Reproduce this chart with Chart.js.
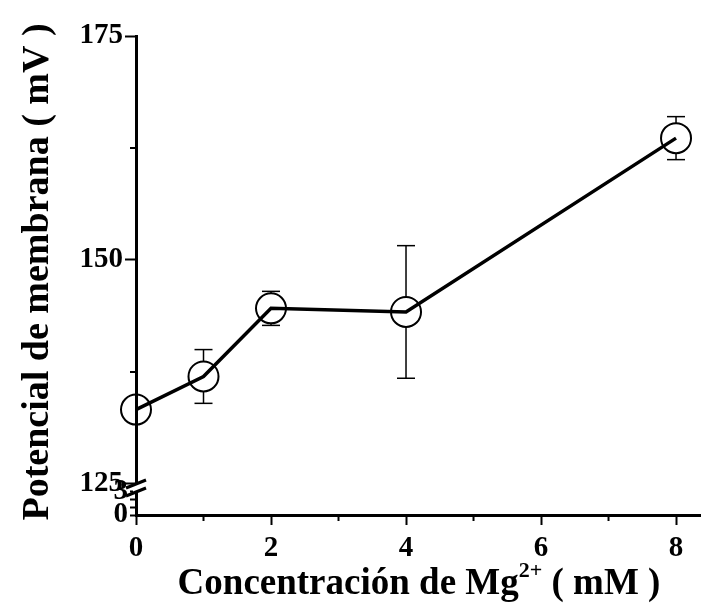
<!DOCTYPE html>
<html>
<head>
<meta charset="utf-8">
<script src="https://cdn.jsdelivr.net/npm/chart.js@4.4.1/dist/chart.umd.min.js"></script>
<style>
  html, body { margin: 0; padding: 0; background: #fff; }
  #wrap { width: 701px; height: 603px; }
</style>
</head>
<body>
<div id="wrap"><canvas id="chart" width="701" height="603"></canvas></div>
<script>
const concentrations = [0, 1, 2, 4, 8];
const potentials = [133.3, 137.0, 144.6, 144.2, 163.6];
const potentialErrors = [1.2, 3.0, 1.9, 7.4, 2.4];

const xTicks = [0, 2, 4, 6, 8];
const xMinorTicks = [1, 3, 5, 7];
const yTicks = [125, 150, 175];
const yMinorTicks = [137.5, 162.5];
const yLowTicks = [0, 1, 2, 3];
const yLowLabels = [0, 3];

const FONT = "'Liberation Serif', 'Times New Roman', serif";
const tickFont = { family: FONT, size: 29, weight: 'bold' };

function drawLine(ctx, x1, y1, x2, y2) {
  ctx.beginPath();
  ctx.moveTo(x1, y1);
  ctx.lineTo(x2, y2);
  ctx.stroke();
}

const errorBars = {
  id: 'errorBars',
  beforeDatasetsDraw(chart) {
    const { ctx, scales } = chart;
    const r = 15;
    ctx.save();
    ctx.strokeStyle = '#000';
    ctx.lineWidth = 1.5;
    concentrations.forEach((c, i) => {
      const cx = scales.x.getPixelForValue(c);
      const cy = scales.y.getPixelForValue(potentials[i]);
      const top = scales.y.getPixelForValue(potentials[i] + potentialErrors[i]);
      const bottom = scales.y.getPixelForValue(potentials[i] - potentialErrors[i]);
      if (top < cy - r) {
        drawLine(ctx, cx, cy - r, cx, top);
        drawLine(ctx, cx - 9, top, cx + 9, top);
      }
      if (bottom > cy + r) {
        drawLine(ctx, cx, cy + r, cx, bottom);
        drawLine(ctx, cx - 9, bottom, cx + 9, bottom);
      }
    });
    ctx.restore();
  },
};

const axisExtras = {
  id: 'axisExtras',
  afterDraw(chart) {
    const { ctx, scales } = chart;
    const x = scales.x;
    const y = scales.y;
    const axisX = x.getPixelForValue(0);
    const axisY = scales.yLow.getPixelForValue(0);
    ctx.save();
    ctx.strokeStyle = '#000';
    ctx.lineWidth = 2;
    // minor ticks
    xMinorTicks.forEach(v => {
      const px = x.getPixelForValue(v);
      drawLine(ctx, px, axisY, px, axisY + 6);
    });
    yMinorTicks.forEach(v => {
      const py = y.getPixelForValue(v);
      drawLine(ctx, axisX, py, axisX - 6, py);
    });

    // axis break
    const b = y.bottom;
    ctx.fillStyle = '#fff';
    ctx.fillRect(axisX - 3, b - 5, 6, 8);
    ctx.lineWidth = 3;
    drawLine(ctx, axisX - 10, b - 1, axisX + 10, b - 9);
    drawLine(ctx, axisX - 10, b + 7, axisX + 10, b - 1);

    // titles
    ctx.fillStyle = '#000';
    ctx.textBaseline = 'alphabetic';
    ctx.save();
    ctx.translate(48, 272);
    ctx.rotate(-Math.PI / 2);
    ctx.textAlign = 'center';
    ctx.font = `bold 38px ${FONT}`;
    ctx.fillText('Potencial de membrana ( mV )', 0, 0);
    ctx.restore();

    const partA = 'Concentración de Mg';
    const partSup = '2+';
    const partB = ' ( mM )';
    ctx.font = `bold 37px ${FONT}`;
    const wA = ctx.measureText(partA).width;
    const wB = ctx.measureText(partB).width;
    ctx.font = `bold 22px ${FONT}`;
    const wS = ctx.measureText(partSup).width;
    let sx = 419 - (wA + wS + wB) / 2;
    const base = 594;
    ctx.textAlign = 'left';
    ctx.font = `bold 37px ${FONT}`;
    ctx.fillText(partA, sx, base);
    sx += wA;
    ctx.font = `bold 22px ${FONT}`;
    ctx.fillText(partSup, sx, base - 17);
    sx += wS;
    ctx.font = `bold 37px ${FONT}`;
    ctx.fillText(partB, sx, base);
    ctx.restore();
  },
};

new Chart(document.getElementById('chart'), {
  type: 'line',
  data: {
    datasets: [{
      data: concentrations.map((c, i) => ({ x: c, y: potentials[i] })),
      yAxisID: 'y',
      borderColor: '#000',
      borderWidth: 3.5,
      pointRadius: 15,
      pointBorderWidth: 2,
      pointBorderColor: '#000',
      pointBackgroundColor: 'rgba(0,0,0,0)',
      tension: 0,
      clip: false,
    }],
  },
  options: {
    responsive: false,
    animation: false,
    layout: { autoPadding: false, padding: { top: 36, right: 0, left: 0, bottom: 0 } },
    plugins: { legend: { display: false }, tooltip: { enabled: false } },
    scales: {
      x: {
        type: 'linear',
        min: 0,
        max: 8.37,
        afterBuildTicks: s => { s.ticks = xTicks.map(v => ({ value: v })); },
        afterFit: s => { s.height = 88; s.paddingRight = 0; },
        border: { width: 3, color: '#000' },
        grid: { drawOnChartArea: false, tickLength: 10, tickWidth: 2, tickColor: '#000' },
        ticks: { color: '#000', font: tickFont, padding: 6, maxRotation: 0, autoSkip: false },
      },
      yLow: {
        type: 'linear',
        position: 'left',
        stack: 'yaxis',
        stackWeight: 26,
        min: 0,
        max: 3.39,
        afterBuildTicks: s => { s.ticks = yLowTicks.map(v => ({ value: v })); },
        afterFit: s => { s.width = 136; },
        border: { width: 3, color: '#000' },
        grid: { drawOnChartArea: false, tickLength: 6, tickWidth: 2, tickColor: '#000' },
        ticks: {
          color: '#000', font: tickFont, padding: 2, autoSkip: false,
          callback: v => (yLowLabels.includes(v) ? String(v) : ''),
        },
      },
      y: {
        type: 'linear',
        position: 'left',
        stack: 'yaxis',
        stackWeight: 453,
        min: 124.44,
        max: 175,
        afterBuildTicks: s => { s.ticks = yTicks.map(v => ({ value: v })); },
        afterFit: s => { s.width = 136; },
        border: { width: 3, color: '#000' },
        grid: { drawOnChartArea: false, tickLength: 11, tickWidth: 2, tickColor: '#000' },
        ticks: { color: '#000', font: tickFont, padding: 2, autoSkip: false },
      },
    },
  },
  plugins: [errorBars, axisExtras],
});
</script>
</body>
</html>
